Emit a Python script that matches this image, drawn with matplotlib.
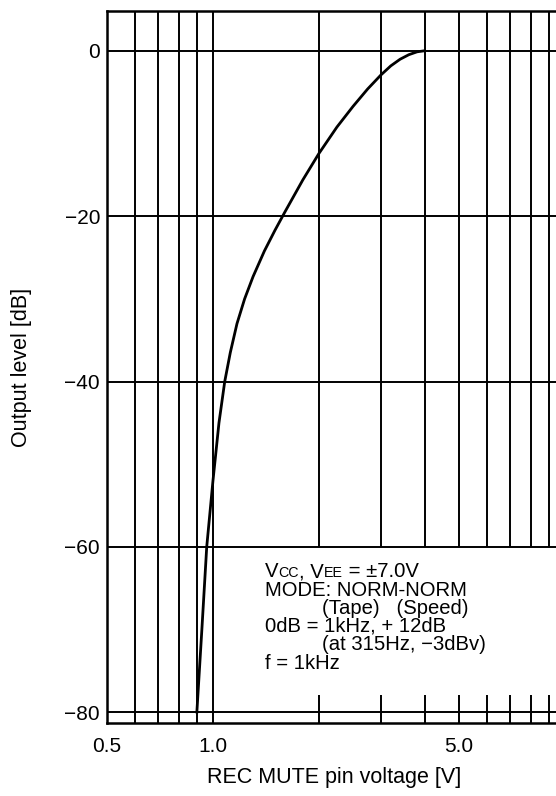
import matplotlib
matplotlib.use("Agg")
import matplotlib.pyplot as plt

plt.rcParams['font.family'] = ['Liberation Sans', 'DejaVu Sans']

# ---- data ----
voltage = [0.90, 0.93, 0.96, 1.00, 1.04, 1.08, 1.12, 1.17, 1.23, 1.30, 1.40, 1.50, 1.60,
           1.80, 2.00, 2.25, 2.50, 2.75, 3.00, 3.20, 3.40, 3.60, 3.80, 3.95]
level = [-80, -70, -60, -52, -45, -40, -36.5, -33, -30, -27.3, -24.2, -21.7, -19.5,
         -15.6, -12.4, -9.2, -6.7, -4.6, -2.9, -1.8, -1.0, -0.45, -0.1, 0.0]

full_grid_x = [0.5, 0.6, 0.7, 0.8, 0.9, 1.0]
upper_grid_x = [2, 3, 4, 5, 6, 7, 8, 9]
h_grid_y = [0, -20, -40, -60, -80]
xtick_vals = [0.5, 1.0, 5.0]
xtick_labels = ['0.5', '1.0', '5.0']
ytick_vals = [0, -20, -40, -60, -80]
ytick_labels = ['0', '\u221220', '\u221240', '\u221260', '\u221280']

W, H = 556, 796
fig = plt.figure(figsize=(W / 100, H / 100), dpi=100)
ax = fig.add_axes([107 / W, 1 - 723 / H, (565 - 107) / W, (723 - 11) / H])
ax.set_xscale('log')
ax.set_xlim(0.5, 10)
ax.set_ylim(-81.33, 4.84)

gc = 'black'
glw = 1.4
for x in full_grid_x:
    ax.axvline(x, color=gc, lw=glw, zorder=1)
for x in upper_grid_x:
    ax.plot([x, x], [-60, 4.84], color=gc, lw=glw, zorder=1, solid_capstyle='butt')
    ax.plot([x, x], [-81.33, -78], color=gc, lw=glw, zorder=1, solid_capstyle='butt')
for y in h_grid_y:
    ax.axhline(y, color=gc, lw=glw, zorder=1)

ax.plot(voltage, level, color='black', lw=2.0, zorder=3)

for s in ['left', 'bottom', 'top']:
    ax.spines[s].set_linewidth(1.8)
ax.spines['right'].set_visible(False)

ax.set_xticks(xtick_vals)
ax.set_xticklabels(xtick_labels)
ax.xaxis.set_minor_locator(matplotlib.ticker.NullLocator())
ax.set_yticks(ytick_vals)
ax.set_yticklabels(ytick_labels)
ax.tick_params(axis='both', length=0, labelsize=15)
ax.tick_params(axis='x', pad=10)
ax.tick_params(axis='y', pad=5)

fig.text(334 / W, 1 - 777 / H, 'REC MUTE pin voltage [V]', fontsize=15.5,
         ha='center', va='center')
fig.text(22 / W, 1 - 367 / H, 'Output level [dB]', fontsize=15.5,
         ha='center', va='center', rotation=90)

# ---- annotation block ----
fs = 14.6
fs_small = 10.3
fig.canvas.draw()
r = fig.canvas.get_renderer()
x0 = 265
xi = 322
y_base = [577, 595.5, 614, 632, 650.5, 669]

# first line with small-cap subscripts
x = x0
pieces = [('V', fs), ('CC', fs_small), (', V', fs), ('EE', fs_small), (' = \u00b17.0V', fs)]
for s, size in pieces:
    t = fig.text(x / W, 1 - y_base[0] / H, s, fontsize=size, va='baseline', ha='left')
    bb = t.get_window_extent(renderer=r)
    x = bb.x1

lines = [
    (x0, y_base[1], 'MODE: NORM-NORM'),
    (xi, y_base[2], '(Tape)   (Speed)'),
    (x0, y_base[3], '0dB = 1kHz, + 12dB'),
    (xi, y_base[4], '(at 315Hz, \u22123dBv)'),
    (x0, y_base[5], 'f = 1kHz'),
]
for lx, ly, s in lines:
    fig.text(lx / W, 1 - ly / H, s, fontsize=fs, va='baseline', ha='left')

fig.savefig('out.png', dpi=100)
